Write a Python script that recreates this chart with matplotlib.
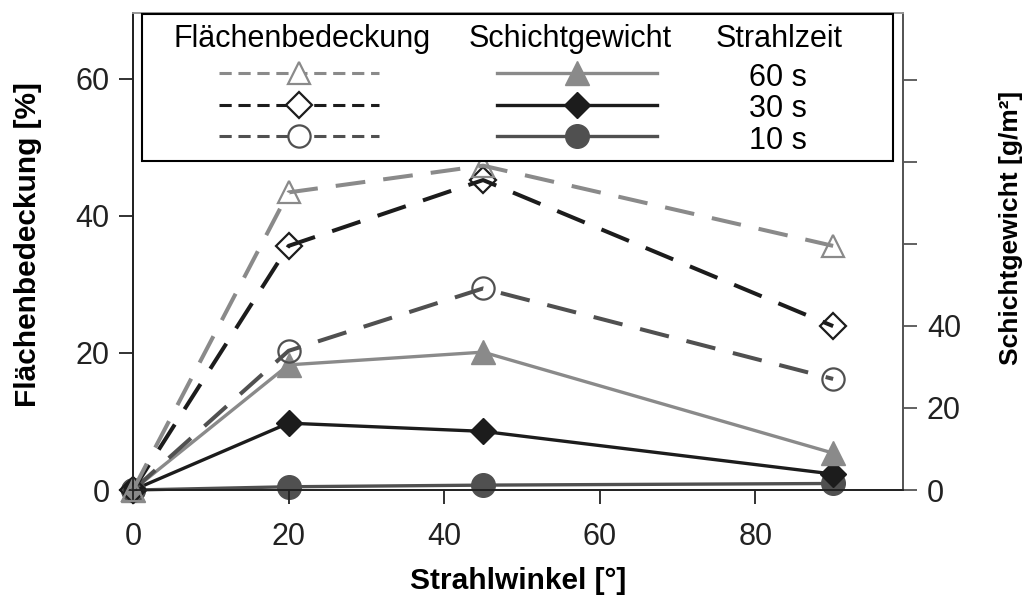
import matplotlib
matplotlib.use("Agg")
import matplotlib.pyplot as plt
from matplotlib.lines import Line2D
from matplotlib.patches import Rectangle

plt.rcParams['font.family'] = ['Liberation Sans', 'DejaVu Sans']

# Strahlwinkel [°]
angle = [0, 20, 45, 90]

# Flächenbedeckung [%] (left axis, dashed, open markers)
cover_60 = [0, 43.4, 47.3, 35.6]
cover_30 = [0, 35.6, 45.2, 23.9]
cover_10 = [0, 20.3, 29.4, 16.2]

# Schichtgewicht [g/m²] (right axis, solid, filled markers)
weight_60 = [0, 30.5, 33.6, 9.0]
weight_30 = [0, 16.3, 14.3, 3.9]
weight_10 = [0, 0.8, 1.2, 1.6]

times = ["60 s", "30 s", "10 s"]

c60 = "#8a8a8a"
c30 = "#1c1c1c"
c10 = "#505050"

fig = plt.figure(figsize=(10.31, 6.05), dpi=100)
ax = fig.add_axes([0.129, 0.190, 0.747, 0.789])
ax2 = ax.twinx()

dash = (7.4, 4.5)
dashed_style = dict(lw=2.9, mfc="none", mew=1.6, clip_on=False)
solid_style = dict(lw=2.4, clip_on=False)

# solid (right axis) first so dashed/open markers sit on top
ax2.plot(angle, weight_10, color=c10, marker="o", ms=17, **solid_style)
ax2.plot(angle, weight_30, color=c30, marker="D", ms=13.5, **solid_style)
ax2.plot(angle, weight_60, color=c60, marker="^", ms=17.5, **solid_style)

ax.plot(angle, cover_10, color=c10, marker="o", ms=16, dashes=dash, **dashed_style)
ax.plot(angle, cover_30, color=c30, marker="D", ms=13, dashes=dash, **dashed_style)
ax.plot(angle, cover_60, color=c60, marker="^", ms=16.5, dashes=dash, **dashed_style)

ax.set_zorder(ax2.get_zorder() + 1)
ax.patch.set_visible(False)

ax.set_xlim(0, 99)
ax.set_ylim(0, 69.6)
ax2.set_ylim(0, 116.3)

ax.set_xticks([0, 20, 40, 60, 80])
ax.set_yticks([0, 20, 40, 60])
ax2.set_yticks([0, 20, 40, 60, 80, 100])
ax2.set_yticklabels(["0", "20", "40", "", "", ""])

ax.tick_params(axis="x", direction="out", length=10, width=1.3, labelsize=22, pad=13, colors="#222222")
ax.tick_params(axis="y", direction="out", length=10, width=1.3, labelsize=22, pad=7, colors="#222222")
ax2.tick_params(axis="y", direction="out", length=10, width=1.3, labelsize=22, pad=7, colors="#555555",
                labelcolor="#222222")

for a in (ax, ax2):
    a.spines["left"].set_color("#222222")
    a.spines["bottom"].set_color("#222222")
    a.spines["right"].set_color("#555555")
    a.spines["top"].set_color("#999999")
    for s in a.spines.values():
        s.set_linewidth(1.3)

ax.set_xlabel("Strahlwinkel [°]", fontsize=21.5, fontweight="bold")
ax.xaxis.set_label_coords(0.5, -0.161)
ax.set_ylabel("Flächenbedeckung [%]", fontsize=21.5, fontweight="bold")
ax.yaxis.set_label_coords(-0.118, 0.515)
ax2.set_ylabel("Schichtgewicht [g/m²]", fontsize=19, fontweight="bold")
ax2.yaxis.set_label_coords(1.125, 0.549)

# legend box
frame = Rectangle((0.012, 0.690), 0.975, 0.307, transform=ax.transAxes,
                  fill=True, facecolor="white", edgecolor="black", lw=1.5, zorder=5, clip_on=False)
ax.add_patch(frame)

leg_dash = (4.0, 2.2)
handles = [
    Line2D([], [], color=c60, lw=2.2, dashes=leg_dash, marker="^", ms=16.5, mfc="white", mew=1.6),
    Line2D([], [], color=c30, lw=2.2, dashes=leg_dash, marker="D", ms=13, mfc="white", mew=1.6),
    Line2D([], [], color=c10, lw=2.2, dashes=leg_dash, marker="o", ms=16, mfc="white", mew=1.6),
    Line2D([], [], color=c60, lw=2.4, marker="^", ms=17.5),
    Line2D([], [], color=c30, lw=2.4, marker="D", ms=13.5),
    Line2D([], [], color=c10, lw=2.4, marker="o", ms=17),
]
labels = [" ", " ", " "] + times
leg = ax.legend(handles, labels, ncol=2, loc="upper left", bbox_to_anchor=(0.1117, 0.899),
                frameon=False, fontsize=22, handlelength=5.24, handletextpad=3.0,
                columnspacing=0.58, borderpad=0, borderaxespad=0, labelspacing=0.0,
                handleheight=1.05)
leg.set_zorder(6)

ax.text(0.2195, 0.929, "Flächenbedeckung", transform=ax.transAxes, ha="center", va="baseline",
        fontsize=22, zorder=7)
ax.text(0.5675, 0.929, "Schichtgewicht", transform=ax.transAxes, ha="center", va="baseline",
        fontsize=22, zorder=7)
ax.text(0.839, 0.929, "Strahlzeit", transform=ax.transAxes, ha="center", va="baseline",
        fontsize=22, zorder=7)

fig.savefig("out.png", dpi=100)
